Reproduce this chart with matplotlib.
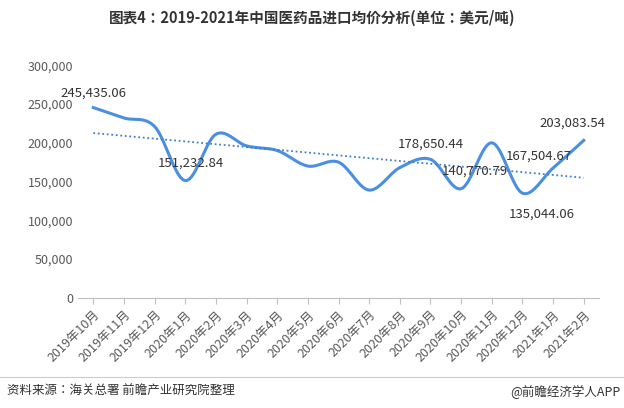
import matplotlib
matplotlib.use("Agg")
import matplotlib.pyplot as plt
from matplotlib import font_manager as fm
import numpy as np

cands = [f for f in fm.findSystemFonts() if "CJK" in f or "cjk" in f.lower()]
fam = ["DejaVu Sans"]
for f in cands:
    try:
        fm.fontManager.addfont(f)
    except Exception:
        pass
names = [fm.FontProperties(fname=f).get_name() for f in cands]
for pref in ["Noto Sans CJK SC", "Noto Sans CJK JP"]:
    if pref in names:
        fam = [pref]
        break
else:
    if names:
        fam = [names[0]]
plt.rcParams["font.family"] = fam + ["DejaVu Sans"]

months = ["2019年10月","2019年11月","2019年12月","2020年1月","2020年2月","2020年3月","2020年4月",
          "2020年5月","2020年6月","2020年7月","2020年8月","2020年9月","2020年10月","2020年11月",
          "2020年12月","2021年1月","2021年2月"]
prices = [245435.06, 232000, 221000, 151232.84, 211000, 196000, 190000, 170000, 175000,
          139000, 168000, 178650.44, 140770.79, 200000, 135044.06, 167504.67, 203083.54]
labeled = {0: "245,435.06", 3: "151,232.84", 11: "178,650.44", 12: "140,770.79",
           14: "135,044.06", 15: "167,504.67", 16: "203,083.54"}
offsets = {0: (0, 6), 3: (4, 8), 11: (0, 6), 12: (10, 8), 14: (14, -20), 15: (-10, 4), 16: (-8, 8)}
yticks = [0, 50000, 100000, 150000, 200000, 250000, 300000]

x = np.arange(len(prices))
y = np.array(prices)

def catmull(x, y, n=20):
    px = np.concatenate([[2*x[0]-x[1]], x, [2*x[-1]-x[-2]]])
    py = np.concatenate([[2*y[0]-y[1]], y, [2*y[-1]-y[-2]]])
    xs, ys = [], []
    for i in range(1, len(px)-2):
        t = np.linspace(0, 1, n, endpoint=False)
        for arr, out in ((px, xs), (py, ys)):
            p0, p1, p2, p3 = arr[i-1], arr[i], arr[i+1], arr[i+2]
            out.append(0.5*((2*p1) + (-p0+p2)*t + (2*p0-5*p1+4*p2-p3)*t**2 + (-p0+3*p1-3*p2+p3)*t**3))
    xs.append([x[-1]]); ys.append([y[-1]])
    return np.concatenate(xs), np.concatenate(ys)

fig = plt.figure(figsize=(6.24, 4.08), dpi=100)
ax = fig.add_axes([0.125, 0.27, 0.835, 0.57])
color = "#4a8fe0"
sx, sy = catmull(x, y)
ax.plot(sx, sy, color=color, lw=2.2)
c = np.polyfit(x, y, 1)
ax.plot(x, np.polyval(c, x), color="#3f7fd0", lw=1.3, ls=(0, (1, 1.5)))
for i, t in labeled.items():
    dx, dy = offsets[i]
    ax.annotate(t, (x[i], y[i]), xytext=(dx, dy), textcoords="offset points",
                ha="center", va="bottom", fontsize=9.5, color="#333333")

ax.set_xlim(-0.5, len(x) - 0.5)
ax.set_ylim(0, 300000)
ax.set_yticks(yticks)
ax.set_yticklabels([f"{v:,}" for v in yticks], fontsize=9, color="#595959")
ax.set_xticks(x)
ax.set_xticklabels(months, rotation=45, ha="right", rotation_mode="anchor", fontsize=9, color="#595959")
for s in ["top", "right", "left"]:
    ax.spines[s].set_visible(False)
ax.spines["bottom"].set_color("#bfbfbf")
ax.tick_params(axis="y", length=0)
ax.tick_params(axis="x", length=4, color="#bfbfbf")

fig.text(0.5, 0.955, "图表4：2019-2021年中国医药品进口均价分析(单位：美元/吨)", ha="center", va="center",
         fontsize=10.5, fontweight="bold", color="#333333")
fig.add_artist(plt.Line2D([0.0, 1.0], [0.075, 0.075], color="#cccccc", lw=0.8))
fig.text(0.012, 0.04, "资料来源：海关总署 前瞻产业研究院整理", ha="left", va="center", fontsize=9, color="#333333")
fig.text(0.995, 0.04, "@前瞻经济学人APP", ha="right", va="center", fontsize=9, color="#333333")
fig.savefig("out.png", dpi=100, facecolor="white")
